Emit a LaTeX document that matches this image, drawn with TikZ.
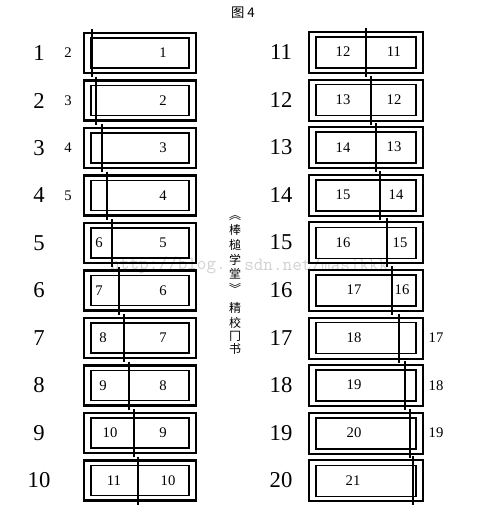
\documentclass[tikz,border=0pt]{standalone}
\usepackage{fontspec}
\setmainfont{Liberation Serif}
\newfontfamily\cjk{Noto Sans CJK SC}
\begin{document}
\begin{tikzpicture}[x=0.75pt,y=-0.75pt,
  outerbox/.style={draw=black,line width=1.6pt},
  innerbox/.style={draw=black,line width=1.1pt},
  divider/.style={draw=black,line width=1.1pt},
  bignum/.style={font=\fontsize{17}{17}\selectfont,inner sep=0pt},
  smallnum/.style={font=\fontsize{11}{11}\selectfont,inner sep=0pt},
  vchar/.style={font=\cjk\fontsize{9}{9}\selectfont,inner sep=0pt},
  wmark/.style={font=\ttfamily\fontsize{14}{14}\selectfont,text=black!18,inner sep=0pt}]
\useasboundingbox (0,0) rectangle (487,515);
% watermark (behind)
\node[wmark,anchor=east] (wm1) at (226,265) {http://blog.};
\node[wmark,anchor=west] (wm2) at (244,265) {sdn.net/masikkk};
% title
\node[font=\cjk\fontsize{10}{10}\selectfont,inner sep=0pt] (title) at (243,13) {图 4};
% left column
\foreach \i/\dx/\ll/\lx/\rx in {1/92/2/68/163, 2/96/3/68/163, 3/102/4/68/163, 4/107/5/68/163,
   5/112/6/99/163, 6/119/7/99/163, 7/124/8/103/163, 8/129/9/103/163, 9/134/10/110/163, 10/138/11/114/168}{
  \pgfmathsetmacro{\t}{33+(\i-1)*47.5}
  \draw[outerbox] (84,\t) rectangle (196,\t+40);
  \draw[innerbox] (91,\t+5) rectangle (189,\t+35);
  \draw[divider] (\dx,\t-4) coordinate (lt\i) -- (\dx,\t+44) coordinate (lb\i);
  \node[bignum] (L\i) at (39,\t+20) {\i};
  \node[smallnum] (la\i) at (\lx,\t+20) {\ll};
  \node[smallnum] (lb\i) at (\rx,\t+20) {\i};
}
% right column
\foreach \i/\dx/\ll/\lx/\rx in {11/366/12/343/394, 12/371/13/343/394, 13/376/14/343/394, 14/380/15/343/396,
   15/387/16/343/400, 16/392/17/354/402, 17/399/18/354/436, 18/405/19/354/436, 19/410/20/354/436, 20/413/21/353/0}{
  \pgfmathsetmacro{\t}{32+(\i-11)*47.6}
  \draw[outerbox] (309,\t) rectangle (423,\t+41);
  \draw[innerbox] (316,\t+5) rectangle (416,\t+36);
  \draw[divider] (\dx,\t-4) coordinate (rt\i) -- (\dx,\t+45) coordinate (rb\i);
  \node[bignum] (R\i) at (281,\t+20) {\i};
  \node[smallnum] (ra\i) at (\lx,\t+20) {\ll};
  \ifnum\i<20
    \node[smallnum] (rb\i) at (\rx,\t+20) {\i};
  \fi
}
% vertical text
\node[vchar] (v1) at (235,218) {︽};
\node[vchar] (v2) at (235,230) {棒};
\node[vchar] (v3) at (235,245) {槌};
\node[vchar] (v4) at (235,260) {学};
\node[vchar] (v5) at (235,274) {堂};
\node[vchar] (v6) at (235,288) {︾};
\node[vchar] (v7) at (235,308) {精};
\node[vchar] (v8) at (235,323) {校};
\node[vchar] (v9) at (235,336) {冂};
\node[vchar] (v10) at (235,349) {书};
\end{tikzpicture}
\end{document}
